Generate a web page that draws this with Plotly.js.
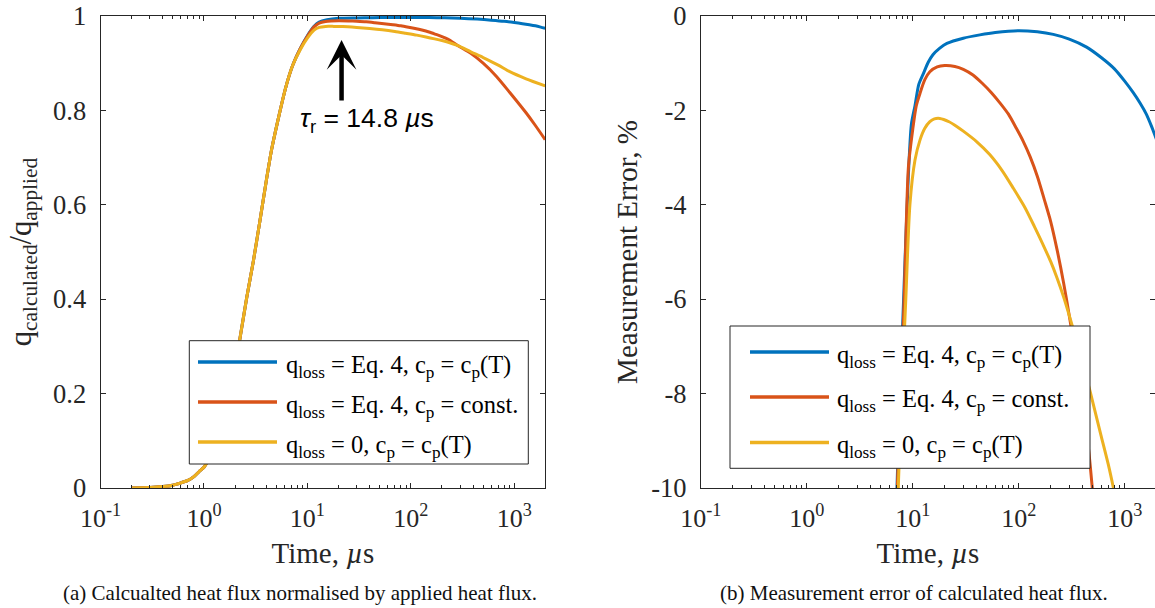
<!DOCTYPE html>
<html>
<head>
<meta charset="utf-8">
<script src="https://cdn.plot.ly/plotly-3.0.1.min.js"></script>
<style>
html,body{margin:0;padding:0;background:#fff;overflow:hidden}
#chart{width:1155px;height:608px}
</style>
</head>
<body>
<div id="chart"></div>
<script>
// ---------- series labels & colours ----------
const seriesNames = [
  'q<sub>loss</sub> = Eq. 4, c<sub>p</sub> = c<sub>p</sub>(T)',
  'q<sub>loss</sub> = Eq. 4, c<sub>p</sub> = const.',
  'q<sub>loss</sub> = 0, c<sub>p</sub> = c<sub>p</sub>(T)'
];
const seriesColors = ['#0072BD', '#D95319', '#EDB120'];

// ---------- (a) q_calculated / q_applied vs time (µs) ----------
const timeA_eq4_cpT = [0.2,0.3,0.4,0.5,0.6,0.7,0.8,0.9,1.0,1.2,1.4,1.7,2.0,2.3,2.6,3.0,3.5,4.0,4.5,5.2,6.2,7.2,8.5,10,11.6,13,15.5,20,30,43,60,100,150,212,300,437,600,800,1000,1200,1400,1600,1800,1990];
const ratio_eq4_cpT = [0,0.001,0.003,0.006,0.011,0.016,0.024,0.035,0.044,0.075,0.11,0.17,0.255,0.335,0.405,0.48,0.57,0.65,0.716,0.78,0.85,0.895,0.93,0.958,0.978,0.987,0.992,0.995,0.996,0.9965,0.997,0.997,0.9967,0.9961,0.9951,0.9934,0.9912,0.9888,0.9862,0.9838,0.9815,0.9792,0.9765,0.974];

const timeA_eq4_const = [0.2,0.3,0.4,0.5,0.6,0.7,0.8,0.9,1.0,1.2,1.4,1.7,2.0,2.3,2.6,3.0,3.5,4.0,4.5,5.2,6.2,7.2,8.5,10,11.6,13,15,17,20,25,30,37,45,55,67,80,95,110,128,150,175,200,230,286,380,500,673,905,1300,1600,1990];
const ratio_eq4_const = [0,0.001,0.003,0.006,0.011,0.016,0.024,0.035,0.044,0.075,0.11,0.17,0.255,0.335,0.405,0.48,0.57,0.65,0.716,0.78,0.85,0.895,0.93,0.957,0.977,0.985,0.9885,0.9895,0.9898,0.9895,0.9888,0.9876,0.9858,0.9838,0.9815,0.9792,0.9762,0.9735,0.9702,0.966,0.961,0.9565,0.9505,0.937,0.921,0.900,0.872,0.838,0.795,0.768,0.738];

const timeA_noLoss = [0.2,0.3,0.4,0.5,0.6,0.7,0.8,0.9,1.0,1.2,1.4,1.7,2.0,2.3,2.6,3.0,3.5,4.0,4.5,5.2,6.2,7.2,8.5,10,11.6,13,15,18,22,30,40,53,70,89,114,140,170,200,230,286,380,500,700,905,1300,1990];
const ratio_noLoss = [0,0.001,0.003,0.006,0.011,0.016,0.024,0.035,0.044,0.075,0.11,0.17,0.255,0.335,0.405,0.48,0.57,0.65,0.716,0.78,0.85,0.895,0.928,0.953,0.970,0.976,0.978,0.978,0.9776,0.9756,0.9734,0.9707,0.9672,0.9635,0.9595,0.9555,0.9515,0.948,0.9445,0.937,0.924,0.912,0.896,0.882,0.867,0.852];

// ---------- (b) measurement error (%) vs time (µs) ----------
const timeB_eq4_cpT = [6.8,7.1,7.6,8.2,9.0,9.7,10.5,11.4,12.6,14,15.5,18,21,30,43,60,100,150,212,300,437,600,800,1000,1200,1400,1600,1800,2000];
const error_eq4_cpT = [-13,-10,-8.0,-6.0,-3.6,-2.3,-1.9,-1.45,-1.22,-0.98,-0.82,-0.68,-0.58,-0.47,-0.40,-0.35,-0.31,-0.335,-0.39,-0.49,-0.66,-0.88,-1.12,-1.38,-1.62,-1.85,-2.08,-2.35,-2.62];

const timeB_eq4_const = [6.8,7.15,7.7,8.3,9.1,10,10.8,11.7,13,14.5,17,20,25,30,37,45,55,67,80,95,110,128,150,175,200,230,265,300,340,380,420,460,490,520];
const error_eq4_const = [-13.5,-10,-8.0,-6.0,-3.2,-2.4,-1.9,-1.64,-1.35,-1.18,-1.08,-1.05,-1.07,-1.13,-1.25,-1.42,-1.62,-1.85,-2.08,-2.38,-2.65,-2.98,-3.40,-3.90,-4.35,-4.95,-5.65,-6.35,-7.10,-7.80,-8.50,-9.25,-9.90,-10.5];

const timeB_noLoss = [6.9,7.3,8.0,8.6,9.4,10.5,11.7,13,14.5,16,18,22,26,30,40,53,70,89,114,140,170,200,230,265,305,380,471,600,700,783,850];
const error_noLoss = [-13,-10,-7.6,-6.0,-4.0,-3.05,-2.63,-2.38,-2.24,-2.18,-2.17,-2.24,-2.34,-2.44,-2.66,-2.93,-3.28,-3.65,-4.05,-4.45,-4.85,-5.2,-5.55,-5.95,-6.4,-7.15,-7.95,-8.9,-9.5,-10.0,-10.4];

// ---------- tick labels & texts ----------
const timeTickVals = [0.1, 1, 10, 100, 1000];
const timeTickText = ['10<sup>-1</sup>','10<sup>0</sup>','10<sup>1</sup>','10<sup>2</sup>','10<sup>3</sup>'];
const ratioTickVals = [0, 0.2, 0.4, 0.6, 0.8, 1];
const ratioTickText = ['0', '0.2', '0.4', '0.6', '0.8', '1'];
const errorTickVals = [-10, -8, -6, -4, -2, 0];
const errorTickText = ['-10', '-8', '-6', '-4', '-2', '0'];
const captions = [
  '(a) Calcualted heat flux normalised by applied heat flux.',
  '(b) Measurement error of calculated heat flux.'
];
const annotationText = '<i>τ</i><sub>r</sub> = 14.8 <i>µ</i>s';
const xTitle = 'Time, <i>µ</i>s';
const yTitleA = 'q<sub>calculated</sub>/q<sub>applied</sub>';
const yTitleB = 'Measurement Error, %';

// ---------- styling / layout ----------
const W = 1155, H = 608, MT = 16, MB = 120;
const PH = H - MT - MB;
const px = v => v / W;
const py = v => (H - MB - v) / PH;
const SERIF = 'Liberation Serif, Times New Roman, serif';
const SANS = 'Liberation Sans, Arial, sans-serif';
const AX = '#262626';

const minorVals = [];
for (let d = -1; d <= 3; d++) for (let k = 2; k <= 9; k++) { const v = k * Math.pow(10, d); if (v < 1990) minorVals.push(v); }

function timeAxis(domain, rmax, anchor) {
  return {
    type: 'log', domain: domain, range: [-1, rmax], anchor: anchor,
    tickmode: 'array', tickvals: timeTickVals, ticktext: timeTickText,
    ticks: 'inside', ticklen: 5, tickwidth: 1, tickcolor: AX,
    showline: true, linecolor: AX, linewidth: 1, mirror: 'ticks',
    showgrid: false, zeroline: false,
    tickfont: {family: SERIF, size: 26, color: AX}, ticklabelstandoff: 7,
    minor: {tickmode: 'array', tickvals: minorVals, ticks: 'inside', ticklen: 3, tickwidth: 1, tickcolor: AX, showgrid: false},
    title: {text: xTitle, font: {family: SERIF, size: 29, color: AX}, standoff: 10},
    fixedrange: true
  };
}
function valAxis(range, tv, tt, anchor, titleText, titleSize, standoff) {
  return {
    range: range, anchor: anchor, domain: [0, 1],
    tickmode: 'array', tickvals: tv, ticktext: tt,
    ticks: 'inside', ticklen: 5, tickwidth: 1, tickcolor: AX,
    showline: true, linecolor: AX, linewidth: 1, mirror: 'ticks',
    showgrid: false, zeroline: false,
    tickfont: {family: SERIF, size: 26.5, color: AX}, ticklabelstandoff: 8,
    title: {text: titleText, font: {family: SERIF, size: titleSize, color: AX}, standoff: standoff},
    fixedrange: true
  };
}

const traces = [];
const setA = [[timeA_eq4_cpT, ratio_eq4_cpT], [timeA_eq4_const, ratio_eq4_const], [timeA_noLoss, ratio_noLoss]];
const setB = [[timeB_eq4_cpT, error_eq4_cpT], [timeB_eq4_const, error_eq4_const], [timeB_noLoss, error_noLoss]];
setA.forEach((s, i) => traces.push({x: s[0], y: s[1], xaxis: 'x', yaxis: 'y', type: 'scatter', mode: 'lines', name: seriesNames[i], line: {color: seriesColors[i], width: 3, shape: 'spline', smoothing: 0.7}, showlegend: false}));
setB.forEach((s, i) => traces.push({x: s[0], y: s[1], xaxis: 'x2', yaxis: 'y2', type: 'scatter', mode: 'lines', name: seriesNames[i], line: {color: seriesColors[i], width: 3, shape: 'spline', smoothing: 0.7}, showlegend: false}));

// framed keys inside each panel
const legends = [
  {box: [189.3, 528.3, 340.7, 464], line: [198, 277], text: 284, rows: [362, 402, 442]},
  {box: [730, 1090, 326, 468.3], line: [750, 829], text: 835, rows: [352, 397, 442.5]}
];
const shapes = [];
const annotations = [];
legends.forEach(L => {
  shapes.push({type: 'rect', xref: 'paper', yref: 'paper', x0: px(L.box[0]), x1: px(L.box[1]), y0: py(L.box[3]), y1: py(L.box[2]), fillcolor: '#ffffff', line: {color: AX, width: 1}, layer: 'above'});
  L.rows.forEach((r, i) => {
    shapes.push({type: 'line', xref: 'paper', yref: 'paper', x0: px(L.line[0]), x1: px(L.line[1]), y0: py(r), y1: py(r), line: {color: seriesColors[i], width: 3.5}, layer: 'above'});
    annotations.push({xref: 'paper', yref: 'paper', x: px(L.text), y: py(r + 4), xanchor: 'left', yanchor: 'middle', showarrow: false, text: seriesNames[i], font: {family: SERIF, size: 24.5, color: '#000'}});
  });
});

// arrow + rise-time label in panel (a)
annotations.push({xref: 'x', yref: 'y', x: Math.log10(21.4), y: 0.949, ax: 0, ay: 62, text: '', showarrow: true, arrowhead: 3, arrowsize: 1.1, arrowwidth: 4.5, arrowcolor: '#000', standoff: 0});
annotations.push({xref: 'x', yref: 'y', x: 1.575, y: 0.78, text: annotationText, showarrow: false, xanchor: 'center', yanchor: 'middle', font: {family: SANS, size: 26.5, color: '#000'}});

// captions
annotations.push({xref: 'paper', yref: 'paper', x: px(300), y: py(593), text: captions[0], showarrow: false, xanchor: 'center', yanchor: 'middle', font: {family: SERIF, size: 21, color: '#111'}});
annotations.push({xref: 'paper', yref: 'paper', x: px(914), y: py(593), text: captions[1], showarrow: false, xanchor: 'center', yanchor: 'middle', font: {family: SERIF, size: 21, color: '#111'}});

const layout = {
  width: W, height: H, autosize: false,
  margin: {l: 0, r: 0, t: MT, b: MB, pad: 0},
  paper_bgcolor: '#ffffff', plot_bgcolor: '#ffffff',
  font: {family: SERIF, color: AX},
  showlegend: false,
  xaxis: timeAxis([px(100.5), px(545.3)], 3.3, 'y'),
  yaxis: valAxis([0, 1], ratioTickVals, ratioTickText, 'x', yTitleA, 30.5, 12),
  xaxis2: timeAxis([px(700.8), 1], 3.286, 'y2'),
  yaxis2: valAxis([-10, 0], errorTickVals, errorTickText, 'x2', yTitleB, 29, 5),
  shapes: shapes,
  annotations: annotations
};

Plotly.newPlot('chart', traces, layout, {displayModeBar: false, staticPlot: true});
</script>
</body>
</html>
